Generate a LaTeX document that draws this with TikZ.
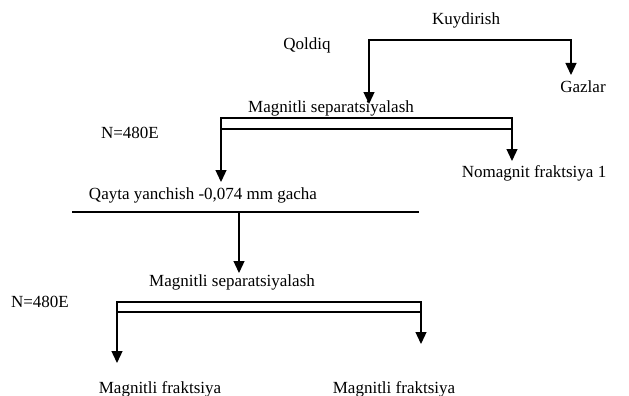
\documentclass[tikz,border=0pt]{standalone}
\usepackage{fontspec}
\setmainfont{Liberation Serif}
\usetikzlibrary{arrows.meta}

\begin{document}
\begin{tikzpicture}[
		x=1pt, y=-1pt,
		nodefont/.style={font=\fontsize{17}{20}\selectfont, inner sep=1pt},
		line/.style={line width=1.3pt, line cap=rect},
		arr/.style={line, -{Triangle[width=11pt, length=12pt]}},
		twoarr/.style={line, {Triangle[width=11pt, length=12pt]}-{Triangle[width=11pt, length=12pt]}}
	]
	\useasboundingbox (0,0) rectangle (629,396);

	% roasting: residue and gases
	\node[nodefont] (kuy) at (466,20) {Kuydirish};
	\node[nodefont] (qol) at (307,45) {Qoldiq};
	\node[nodefont] (gaz) at (583,87) {Gazlar};
	\coordinate (k1) at (369,40);
	\coordinate (k2) at (571,40);
	\coordinate (k1t) at (369,104);
	\coordinate (k2t) at (571,75);
	\draw[arr] (k2) -- (k1) -- (k1t);
	\draw[arr] (k2) -- (k2t);

	% first magnetic separation
	\node[nodefont] (ms1) at (331,108) {Magnitli separatsiyalash};
	\node[nodefont] (n1) at (130,133) {N=480E};
	\node[nodefont] (nom) at (534,173) {Nomagnit fraktsiya 1};
	\coordinate (a1) at (221,118);
	\coordinate (a2) at (512,118);
	\coordinate (a3) at (221,129);
	\coordinate (a4) at (512,129);
	\draw[twoarr] (221,182) -- (a1) -- (a2) -- (512,161);
	\draw[line] (a3) -- (a4);

	% regrinding
	\node[nodefont] (qay) at (203,195) {Qayta yanchish -0,074 mm gacha};
	\coordinate (q1) at (73,212);
	\coordinate (q2) at (418,212);
	\coordinate (q3) at (239,212);
	\coordinate (q3t) at (239,273);
	\draw[line] (q1) -- (q2);
	\draw[arr] (q3) -- (q3t);

	% second magnetic separation
	\node[nodefont] (ms2) at (232,282) {Magnitli separatsiyalash};
	\node[nodefont] (n2) at (40,302) {N=480E};
	\node[nodefont] (mf1) at (160,389) {Magnitli fraktsiya};
	\node[nodefont] (mf2) at (394,389) {Magnitli fraktsiya};
	\coordinate (b1) at (117,302);
	\coordinate (b2) at (421,302);
	\coordinate (b3) at (117,312);
	\coordinate (b4) at (421,312);
	\draw[twoarr] (117,363) -- (b1) -- (b2) -- (421,344);
	\draw[line] (b3) -- (b4);
\end{tikzpicture}
\end{document}
